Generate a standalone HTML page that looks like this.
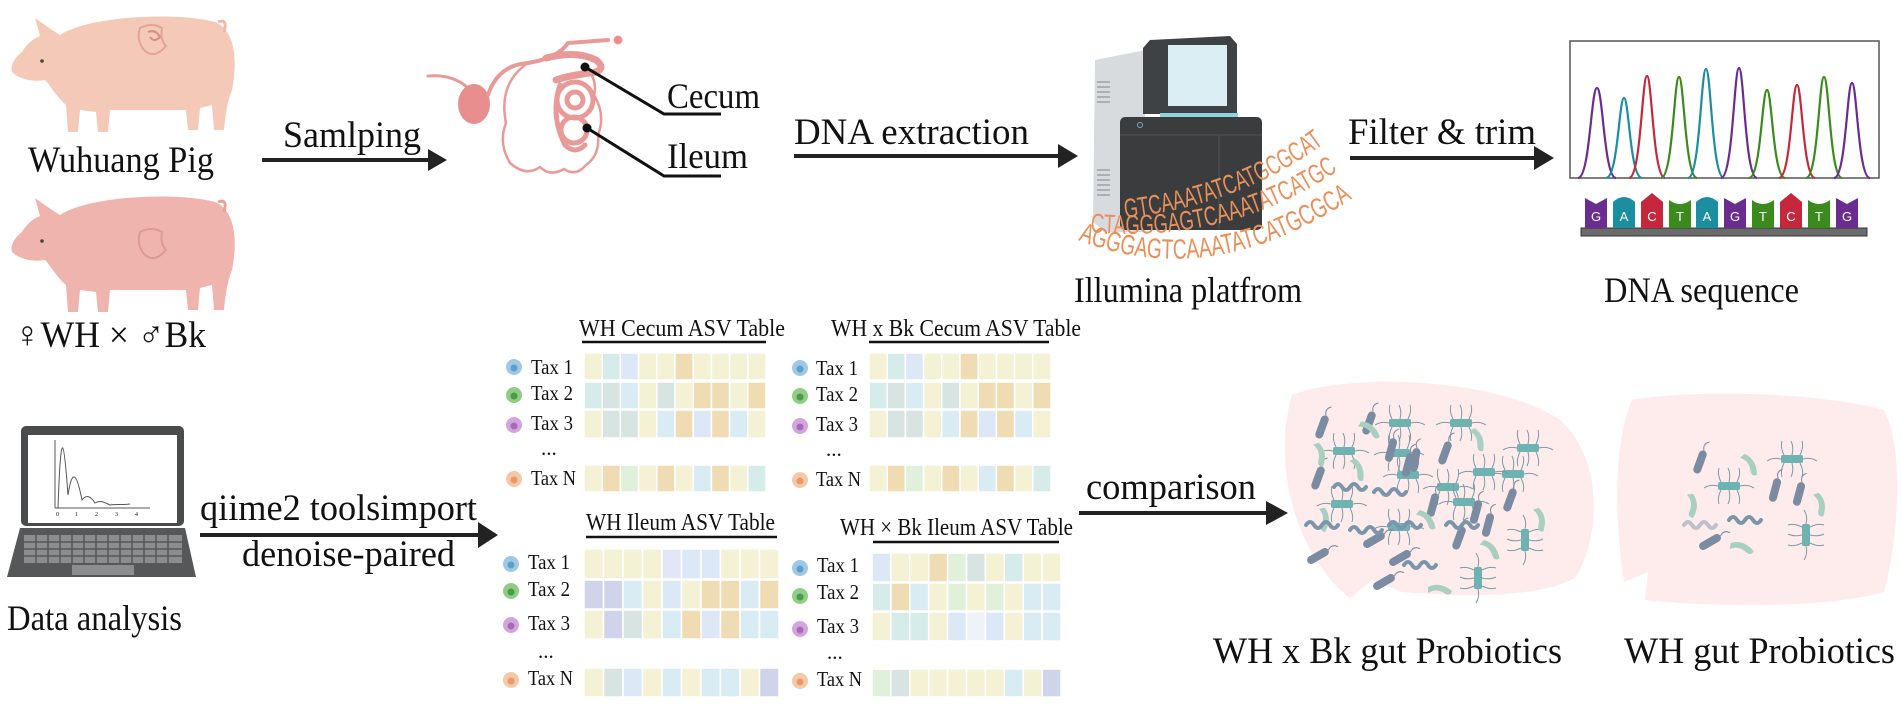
<!DOCTYPE html>
<html><head><meta charset="utf-8"><style>
html,body{margin:0;padding:0;background:#fff;}
svg{display:block;}
text{font-family:"Liberation Serif",serif;fill:#111;}
</style></head><body>
<svg width="1902" height="705" viewBox="0 0 1902 705" xmlns="http://www.w3.org/2000/svg">
<defs>
<g id="rod"><rect x="-12" y="-4" width="24" height="8" rx="4" fill="#7b8ba1"/><path d="M12,0 q6,-4 10,2" stroke="#7b8ba1" fill="none" stroke-width="1"/></g>
<g id="bean"><path d="M-12,-3 q12,-6 24,4 q-2,6 -8,2 q-8,-5 -16,0 z" fill="#a9cfc1"/></g>
<g id="flag"><g stroke="#7c9aa6" stroke-width="1" fill="none"><path d="M-8,-4 q-4,-8 -2,-14"/><path d="M0,-4 q2,-8 -1,-14"/><path d="M8,-4 q4,-8 2,-14"/><path d="M-8,4 q-4,8 -2,14"/><path d="M0,4 q2,8 -1,14"/><path d="M8,4 q4,8 2,14"/><path d="M-11,0 q-8,-2 -14,2"/><path d="M11,0 q8,-2 14,2"/></g><rect x="-11" y="-4" width="22" height="8" rx="2" fill="#6fb2b2"/></g>
<g id="spir"><path d="M-16,0 q4,-6 8,0 t8,0 t8,0 t8,0" stroke="#7b95ab" stroke-width="4" fill="none" stroke-linecap="round"/></g>
</defs>

<!-- Pig 1 -->
<g>
<path d="M60,35 C90,15 180,12 215,22 C235,30 238,60 232,90 C228,100 226,110 224,130 L214,130 L212,105 L200,108 L198,130 L188,130 L186,110 L110,110 L108,132 L98,132 L96,112 L80,110 L78,132 L68,132 L66,105 C55,95 50,85 45,80 C35,82 20,80 12,72 C10,66 14,58 22,52 C28,42 35,38 40,36 L35,18 L52,30 Z" fill="#f4c9b8"/>
<path d="M218,22 q10,-4 6,10" stroke="#f0b9a6" stroke-width="3" fill="none"/>
<circle cx="42" cy="61" r="1.8" fill="#444"/>
<path d="M140,28 q12,-6 22,0 q-2,12 4,18 q-12,14 -22,4 q-8,-10 -4,-22z" fill="none" stroke="#e2a39a" stroke-width="2"/>
<path d="M148,32 q8,-3 12,5 q-6,6 -10,0" stroke="#d98b88" stroke-width="2" fill="none"/>
</g>
<!-- Pig 2 -->
<g transform="translate(0,180)">
<path d="M60,35 C90,15 180,12 215,22 C235,30 238,60 232,90 C228,100 226,110 224,130 L214,130 L212,105 L200,108 L198,130 L188,130 L186,110 L110,110 L108,132 L98,132 L96,112 L80,110 L78,132 L68,132 L66,105 C55,95 50,85 45,80 C35,82 20,80 12,72 C10,66 14,58 22,52 C28,42 35,38 40,36 L35,18 L52,30 Z" fill="#efb4ae"/>
<path d="M218,22 q10,-4 6,10" stroke="#e9a29c" stroke-width="3" fill="none"/>
<circle cx="42" cy="61" r="1.8" fill="#444"/>
<path d="M140,52 q12,-6 22,0 q-2,12 4,18 q-12,14 -22,4 q-8,-10 -4,-22z" fill="none" stroke="#dc9a96" stroke-width="2"/>
</g>
<text x="121" y="172" font-size="37" text-anchor="middle" textLength="186" lengthAdjust="spacingAndGlyphs">Wuhuang Pig</text>
<text x="14" y="347" font-size="37" textLength="192" lengthAdjust="spacingAndGlyphs">♀WH × ♂Bk</text>

<!-- Sampling arrow -->
<text x="283" y="147" font-size="37" textLength="138" lengthAdjust="spacingAndGlyphs">Samlping</text>
<line x1="262" y1="160" x2="430" y2="160" stroke="#222" stroke-width="4"/>
<polygon points="428,149 447,160 428,171" fill="#222"/>

<!-- Intestine -->
<g fill="none" stroke="#e79a98" stroke-linecap="round">
<path d="M428,76 q25,-2 40,12" stroke-width="3"/>
<ellipse cx="474" cy="104" rx="16" ry="20" fill="#e88e8e" stroke="none"/>
<path d="M488,95 q10,-30 40,-32 q30,-5 40,-20 l40,-3" stroke-width="4"/>
<circle cx="618" cy="40" r="4" fill="#e88e8e"/>
<path d="M528,63 q-30,20 -22,60 q-8,20 4,40 q16,14 30,4 q10,10 24,2 q12,8 22,-4 q14,-10 12,-30 q8,-20 -4,-40 q4,-14 -8,-28" stroke-width="2.5"/>
<path d="M546,58 q30,-8 50,2 q10,8 0,12 q-30,4 -40,8" stroke-width="7"/>
<circle cx="575" cy="100" r="18" stroke-width="5"/>
<circle cx="575" cy="100" r="8" stroke-width="5"/>
<circle cx="574" cy="130" r="13" stroke-width="5"/>
<path d="M560,85 q-10,30 5,60 q10,10 20,0" stroke-width="5"/>
</g>
<g stroke="#111" stroke-width="3" fill="none">
<path d="M585,67 L664,114 L721,114"/>
<path d="M587,128 L664,176 L721,176"/>
</g>
<circle cx="585" cy="67" r="4.5" fill="#111"/>
<circle cx="587" cy="128" r="4.5" fill="#111"/>
<text x="667" y="108" font-size="36" textLength="93" lengthAdjust="spacingAndGlyphs">Cecum</text>
<text x="667" y="168" font-size="36" textLength="81" lengthAdjust="spacingAndGlyphs">Ileum</text>

<!-- DNA extraction arrow -->
<text x="794" y="144" font-size="37" textLength="235" lengthAdjust="spacingAndGlyphs">DNA extraction</text>
<line x1="794" y1="156" x2="1060" y2="156" stroke="#222" stroke-width="4"/>
<polygon points="1058,144 1078,156 1058,168" fill="#222"/>

<!-- Sequencer -->
<g>
<path d="M1095,60 L1145,50 L1145,232 L1105,232 L1093,222 Z" fill="#d7dbde"/>
<g stroke="#9aa1a6" stroke-width="1.5"><line x1="1097" y1="82" x2="1110" y2="82"/><line x1="1097" y1="87" x2="1110" y2="87"/><line x1="1097" y1="92" x2="1110" y2="92"/><line x1="1097" y1="97" x2="1110" y2="97"/><line x1="1097" y1="102" x2="1110" y2="102"/><line x1="1097" y1="170" x2="1110" y2="170"/><line x1="1097" y1="175" x2="1110" y2="175"/><line x1="1097" y1="180" x2="1110" y2="180"/><line x1="1097" y1="185" x2="1110" y2="185"/><line x1="1097" y1="190" x2="1110" y2="190"/><line x1="1097" y1="195" x2="1110" y2="195"/></g>
<path d="M1150,40 L1230,36 L1237,44 L1237,114 L1143,114 L1143,48 Z" fill="#3f4244"/>
<rect x="1168" y="45" width="59" height="61" fill="#dbeef4"/>
<rect x="1160" y="113" width="78" height="5" fill="#8fd3dc"/>
<rect x="1120" y="117" width="142" height="113" rx="5" fill="#3b3c3e"/>
<line x1="1120" y1="135" x2="1262" y2="135" stroke="#555" stroke-width="1"/>
<line x1="1219" y1="135" x2="1219" y2="228" stroke="#555" stroke-width="1"/>
<circle cx="1140" cy="125" r="2.5" fill="none" stroke="#7ac" stroke-width="1"/>
</g>
<!-- DNA letters -->
<path id="p1" d="M1125,218 Q1240,205 1322,145" fill="none"/>
<path id="p2" d="M1090,232 Q1230,245 1342,168" fill="none"/>
<path id="p3" d="M1078,240 Q1210,292 1350,200" fill="none"/>
<text font-size="27" style="fill:#e9905a;font-family:'Liberation Sans',sans-serif"><textPath href="#p1" textLength="215" lengthAdjust="spacingAndGlyphs">GTCAAATATCATGCGCAT</textPath></text>
<text font-size="27" style="fill:#e9905a;font-family:'Liberation Sans',sans-serif"><textPath href="#p2" textLength="275" lengthAdjust="spacingAndGlyphs">CTAGGGAGTCAAATATCATGCG</textPath></text>
<text font-size="28" style="fill:#e9905a;font-family:'Liberation Sans',sans-serif"><textPath href="#p3" textLength="300" lengthAdjust="spacingAndGlyphs">AGGGAGTCAAATATCATGCGCAT</textPath></text>
<text x="1074" y="302" font-size="36" textLength="228" lengthAdjust="spacingAndGlyphs">Illumina platfrom</text>

<!-- Filter arrow -->
<text x="1348" y="144" font-size="37" textLength="188" lengthAdjust="spacingAndGlyphs">Filter &amp; trim</text>
<line x1="1350" y1="158" x2="1536" y2="158" stroke="#222" stroke-width="4"/>
<polygon points="1534,146 1554,158 1534,170" fill="#222"/>

<!-- Chromatogram -->
<rect x="1570" y="41" width="309" height="137" fill="#fff" stroke="#555" stroke-width="1.5"/>
<g fill="none" stroke-width="2.2">
<path d="M1578,178 C1590,178 1591,88 1597,88 C1603,88 1604,178 1616,178" stroke="#6a2c91"/>
<path d="M1606,178 C1618,178 1619,98 1624,98 C1629,98 1630,178 1642,178" stroke="#1b8ea0"/>
<path d="M1629,178 C1641,178 1642,76 1647,76 C1652,76 1653,178 1665,178" stroke="#c5283d"/>
<path d="M1661,178 C1673,178 1674,77 1679,77 C1684,77 1685,178 1697,178" stroke="#3b8a1e"/>
<path d="M1688,178 C1700,178 1701,69 1706,69 C1711,69 1712,178 1724,178" stroke="#1b8ea0"/>
<path d="M1721,178 C1733,178 1734,68 1739,68 C1744,68 1745,178 1757,178" stroke="#6a2c91"/>
<path d="M1749,178 C1761,178 1762,90 1767,90 C1772,90 1773,178 1785,178" stroke="#3b8a1e"/>
<path d="M1779,178 C1791,178 1792,85 1797,85 C1802,85 1803,178 1815,178" stroke="#c5283d"/>
<path d="M1806,178 C1818,178 1819,77 1824,77 C1829,77 1830,178 1842,178" stroke="#3b8a1e"/>
<path d="M1834,178 C1846,178 1847,83 1852,83 C1857,83 1858,178 1870,178" stroke="#6a2c91"/>
</g>
<rect x="1581" y="228" width="286" height="8" fill="#6b6b6b" stroke="#333" stroke-width="1"/>
<g>
<path d="M1585,228 v-30 l11,6 l11,-6 v30z" fill="#6a2c91"/><text x="1596" y="221" font-size="13" text-anchor="middle" style="fill:#fff;font-family:'Liberation Sans',sans-serif">G</text>
<path d="M1613,228 v-26 q11,-10 22,0 v26z" fill="#1b8ea0"/><text x="1624" y="221" font-size="13" text-anchor="middle" style="fill:#fff;font-family:'Liberation Sans',sans-serif">A</text>
<path d="M1641,228 v-26 l11,-9 l11,9 v26z" fill="#c5283d"/><text x="1652" y="221" font-size="13" text-anchor="middle" style="fill:#fff;font-family:'Liberation Sans',sans-serif">C</text>
<path d="M1669,228 v-28 q11,8 22,0 v28z" fill="#3b8a1e"/><text x="1680" y="221" font-size="13" text-anchor="middle" style="fill:#fff;font-family:'Liberation Sans',sans-serif">T</text>
<path d="M1696,228 v-26 q11,-10 22,0 v26z" fill="#1b8ea0"/><text x="1707" y="221" font-size="13" text-anchor="middle" style="fill:#fff;font-family:'Liberation Sans',sans-serif">A</text>
<path d="M1724,228 v-30 l11,6 l11,-6 v30z" fill="#6a2c91"/><text x="1735" y="221" font-size="13" text-anchor="middle" style="fill:#fff;font-family:'Liberation Sans',sans-serif">G</text>
<path d="M1752,228 v-28 q11,8 22,0 v28z" fill="#3b8a1e"/><text x="1763" y="221" font-size="13" text-anchor="middle" style="fill:#fff;font-family:'Liberation Sans',sans-serif">T</text>
<path d="M1780,228 v-26 l11,-9 l11,9 v26z" fill="#c5283d"/><text x="1791" y="221" font-size="13" text-anchor="middle" style="fill:#fff;font-family:'Liberation Sans',sans-serif">C</text>
<path d="M1808,228 v-28 q11,8 22,0 v28z" fill="#3b8a1e"/><text x="1819" y="221" font-size="13" text-anchor="middle" style="fill:#fff;font-family:'Liberation Sans',sans-serif">T</text>
<path d="M1836,228 v-30 l11,6 l11,-6 v30z" fill="#6a2c91"/><text x="1847" y="221" font-size="13" text-anchor="middle" style="fill:#fff;font-family:'Liberation Sans',sans-serif">G</text>
</g>
<text x="1604" y="302" font-size="36" textLength="195" lengthAdjust="spacingAndGlyphs">DNA sequence</text>

<!-- Laptop -->
<rect x="21" y="426" width="163" height="100" rx="5" fill="#4a4b4d"/>
<rect x="28" y="435" width="149" height="88" fill="#fff"/>
<g stroke="#555" stroke-width="1" fill="none">
<line x1="55" y1="440" x2="55" y2="508"/><line x1="55" y1="508" x2="150" y2="508"/>
<path d="M58,508 C61,420 64,440 68,495 C72,470 76,470 82,500 C86,495 90,495 95,503 C100,500 104,502 110,505 C116,504 122,505 130,504"/>
</g>
<g font-size="6" style="font-family:'Liberation Sans',sans-serif"><text x="56" y="516">0</text><text x="75" y="516">1</text><text x="95" y="516">2</text><text x="115" y="516">3</text><text x="135" y="516">4</text></g>
<path d="M20,528 L185,528 L196,577 L7,577 Z" fill="#565759"/>
<rect x="24" y="535" width="158" height="28" fill="#8c8d8f"/>
<g stroke="#565759" stroke-width="1.5"><line x1="24" y1="542" x2="182" y2="542"/><line x1="24" y1="549" x2="182" y2="549"/><line x1="24" y1="556" x2="182" y2="556"/>
<line x1="36" y1="535" x2="36" y2="563"/><line x1="48" y1="535" x2="48" y2="563"/><line x1="60" y1="535" x2="60" y2="563"/><line x1="72" y1="535" x2="72" y2="563"/><line x1="84" y1="535" x2="84" y2="563"/><line x1="96" y1="535" x2="96" y2="563"/><line x1="108" y1="535" x2="108" y2="563"/><line x1="120" y1="535" x2="120" y2="563"/><line x1="132" y1="535" x2="132" y2="563"/><line x1="144" y1="535" x2="144" y2="563"/><line x1="156" y1="535" x2="156" y2="563"/><line x1="168" y1="535" x2="168" y2="563"/></g>
<rect x="72" y="565" width="62" height="10" fill="#8c8d8f"/>
<text x="7" y="630" font-size="36" textLength="175" lengthAdjust="spacingAndGlyphs">Data analysis</text>

<!-- qiime arrow -->
<text x="200" y="520" font-size="37" textLength="277" lengthAdjust="spacingAndGlyphs">qiime2 toolsimport</text>
<line x1="200" y1="535" x2="480" y2="535" stroke="#222" stroke-width="4"/>
<polygon points="478,522 498,535 478,548" fill="#222"/>
<text x="242" y="566" font-size="37" textLength="213" lengthAdjust="spacingAndGlyphs">denoise-paired</text>

<!-- Table headers -->
<text x="579" y="336" font-size="24" textLength="206" lengthAdjust="spacingAndGlyphs">WH Cecum ASV Table</text>
<line x1="582" y1="342" x2="766" y2="342" stroke="#111" stroke-width="2.5"/>
<text x="831" y="336" font-size="24" textLength="250" lengthAdjust="spacingAndGlyphs">WH x Bk Cecum ASV Table</text>
<line x1="869" y1="342" x2="1049" y2="342" stroke="#111" stroke-width="2.5"/>
<text x="586" y="530" font-size="24" textLength="189" lengthAdjust="spacingAndGlyphs">WH Ileum ASV Table</text>
<line x1="586" y1="537" x2="777" y2="537" stroke="#111" stroke-width="2.5"/>
<text x="840" y="535" font-size="24" textLength="233" lengthAdjust="spacingAndGlyphs">WH × Bk Ileum ASV Table</text>
<line x1="873" y1="542" x2="1059" y2="542" stroke="#111" stroke-width="2.5"/>

<!-- Tables -->
<g stroke="#fff" stroke-width="1.5">
<g transform="translate(584,353)">
<rect x="0" y="0" width="18.2" height="27" fill="#f5f1d5"/><rect x="18.2" y="0" width="18.2" height="27" fill="#d6ecea"/><rect x="36.4" y="0" width="18.2" height="27" fill="#dde8f7"/><rect x="54.6" y="0" width="18.2" height="27" fill="#f5f1d5"/><rect x="72.8" y="0" width="18.2" height="27" fill="#f5f1d5"/><rect x="91" y="0" width="18.2" height="27" fill="#efdcb2"/><rect x="109.2" y="0" width="18.2" height="27" fill="#f5f1d5"/><rect x="127.4" y="0" width="18.2" height="27" fill="#f5f1d5"/><rect x="145.6" y="0" width="18.2" height="27" fill="#f5f1d5"/><rect x="163.8" y="0" width="18.2" height="27" fill="#f5f1d5"/>
<rect x="0" y="29" width="18.2" height="27" fill="#d6ecea"/><rect x="18.2" y="29" width="18.2" height="27" fill="#d8e4e2"/><rect x="36.4" y="29" width="18.2" height="27" fill="#d9ecf4"/><rect x="54.6" y="29" width="18.2" height="27" fill="#f5f1d5"/><rect x="72.8" y="29" width="18.2" height="27" fill="#d8e4e2"/><rect x="91" y="29" width="18.2" height="27" fill="#f5f1d5"/><rect x="109.2" y="29" width="18.2" height="27" fill="#efdcb2"/><rect x="127.4" y="29" width="18.2" height="27" fill="#efdcb2"/><rect x="145.6" y="29" width="18.2" height="27" fill="#f5f1d5"/><rect x="163.8" y="29" width="18.2" height="27" fill="#efdcb2"/>
<rect x="0" y="57" width="18.2" height="28" fill="#f5f1d5"/><rect x="18.2" y="57" width="18.2" height="28" fill="#d8e4e2"/><rect x="36.4" y="57" width="18.2" height="28" fill="#d8e4e2"/><rect x="54.6" y="57" width="18.2" height="28" fill="#f5f1d5"/><rect x="72.8" y="57" width="18.2" height="28" fill="#d9ecf4"/><rect x="91" y="57" width="18.2" height="28" fill="#efdcb2"/><rect x="109.2" y="57" width="18.2" height="28" fill="#dde8f7"/><rect x="127.4" y="57" width="18.2" height="28" fill="#efdcb2"/><rect x="145.6" y="57" width="18.2" height="28" fill="#d9ecf4"/><rect x="163.8" y="57" width="18.2" height="28" fill="#f5f1d5"/>
<rect x="0" y="112" width="18.2" height="27" fill="#f5f1d5"/><rect x="18.2" y="112" width="18.2" height="27" fill="#efdcb2"/><rect x="36.4" y="112" width="18.2" height="27" fill="#e0f0da"/><rect x="54.6" y="112" width="18.2" height="27" fill="#f5f1d5"/><rect x="72.8" y="112" width="18.2" height="27" fill="#efdcb2"/><rect x="91" y="112" width="18.2" height="27" fill="#f5f1d5"/><rect x="109.2" y="112" width="18.2" height="27" fill="#d9ecf4"/><rect x="127.4" y="112" width="18.2" height="27" fill="#efdcb2"/><rect x="145.6" y="112" width="18.2" height="27" fill="#f5f1d5"/><rect x="163.8" y="112" width="18.2" height="27" fill="#d6ecea"/>
</g>
<g transform="translate(869,353)">
<rect x="0" y="0" width="18.2" height="27" fill="#f5f1d5"/><rect x="18.2" y="0" width="18.2" height="27" fill="#d6ecea"/><rect x="36.4" y="0" width="18.2" height="27" fill="#dde8f7"/><rect x="54.6" y="0" width="18.2" height="27" fill="#f5f1d5"/><rect x="72.8" y="0" width="18.2" height="27" fill="#f5f1d5"/><rect x="91" y="0" width="18.2" height="27" fill="#efdcb2"/><rect x="109.2" y="0" width="18.2" height="27" fill="#f5f1d5"/><rect x="127.4" y="0" width="18.2" height="27" fill="#f5f1d5"/><rect x="145.6" y="0" width="18.2" height="27" fill="#f5f1d5"/><rect x="163.8" y="0" width="18.2" height="27" fill="#f5f1d5"/>
<rect x="0" y="29" width="18.2" height="27" fill="#d6ecea"/><rect x="18.2" y="29" width="18.2" height="27" fill="#d8e4e2"/><rect x="36.4" y="29" width="18.2" height="27" fill="#d9ecf4"/><rect x="54.6" y="29" width="18.2" height="27" fill="#f5f1d5"/><rect x="72.8" y="29" width="18.2" height="27" fill="#d8e4e2"/><rect x="91" y="29" width="18.2" height="27" fill="#f5f1d5"/><rect x="109.2" y="29" width="18.2" height="27" fill="#efdcb2"/><rect x="127.4" y="29" width="18.2" height="27" fill="#efdcb2"/><rect x="145.6" y="29" width="18.2" height="27" fill="#f5f1d5"/><rect x="163.8" y="29" width="18.2" height="27" fill="#efdcb2"/>
<rect x="0" y="57" width="18.2" height="28" fill="#f5f1d5"/><rect x="18.2" y="57" width="18.2" height="28" fill="#d8e4e2"/><rect x="36.4" y="57" width="18.2" height="28" fill="#d8e4e2"/><rect x="54.6" y="57" width="18.2" height="28" fill="#f5f1d5"/><rect x="72.8" y="57" width="18.2" height="28" fill="#d9ecf4"/><rect x="91" y="57" width="18.2" height="28" fill="#efdcb2"/><rect x="109.2" y="57" width="18.2" height="28" fill="#dde8f7"/><rect x="127.4" y="57" width="18.2" height="28" fill="#efdcb2"/><rect x="145.6" y="57" width="18.2" height="28" fill="#d9ecf4"/><rect x="163.8" y="57" width="18.2" height="28" fill="#f5f1d5"/>
<rect x="0" y="112" width="18.2" height="27" fill="#f5f1d5"/><rect x="18.2" y="112" width="18.2" height="27" fill="#efdcb2"/><rect x="36.4" y="112" width="18.2" height="27" fill="#e0f0da"/><rect x="54.6" y="112" width="18.2" height="27" fill="#f5f1d5"/><rect x="72.8" y="112" width="18.2" height="27" fill="#efdcb2"/><rect x="91" y="112" width="18.2" height="27" fill="#f5f1d5"/><rect x="109.2" y="112" width="18.2" height="27" fill="#d9ecf4"/><rect x="127.4" y="112" width="18.2" height="27" fill="#efdcb2"/><rect x="145.6" y="112" width="18.2" height="27" fill="#f5f1d5"/><rect x="163.8" y="112" width="18.2" height="27" fill="#d6ecea"/>
</g>
<g transform="translate(584,549)">
<rect x="0" y="0" width="19.5" height="30" fill="#f5f1d5"/><rect x="19.5" y="0" width="19.5" height="30" fill="#f5f1d5"/><rect x="39" y="0" width="19.5" height="30" fill="#f5f1d5"/><rect x="58.5" y="0" width="19.5" height="30" fill="#f5f1d5"/><rect x="78" y="0" width="19.5" height="30" fill="#e2e6f6"/><rect x="97.5" y="0" width="19.5" height="30" fill="#dde8f7"/><rect x="117" y="0" width="19.5" height="30" fill="#dde8f7"/><rect x="136.5" y="0" width="19.5" height="30" fill="#f5f1d5"/><rect x="156" y="0" width="19.5" height="30" fill="#f5f1d5"/><rect x="175.5" y="0" width="19.5" height="30" fill="#f5f1d5"/>
<rect x="0" y="31" width="19.5" height="29" fill="#d0d4ea"/><rect x="19.5" y="31" width="19.5" height="29" fill="#d0d4ea"/><rect x="39" y="31" width="19.5" height="29" fill="#d9ecf4"/><rect x="58.5" y="31" width="19.5" height="29" fill="#f5f1d5"/><rect x="78" y="31" width="19.5" height="29" fill="#dde8f7"/><rect x="97.5" y="31" width="19.5" height="29" fill="#f5f1d5"/><rect x="117" y="31" width="19.5" height="29" fill="#efdcb2"/><rect x="136.5" y="31" width="19.5" height="29" fill="#efdcb2"/><rect x="156" y="31" width="19.5" height="29" fill="#d9ecf4"/><rect x="175.5" y="31" width="19.5" height="29" fill="#efdcb2"/>
<rect x="0" y="61" width="19.5" height="29" fill="#f5f1d5"/><rect x="19.5" y="61" width="19.5" height="29" fill="#d0d4ea"/><rect x="39" y="61" width="19.5" height="29" fill="#d8e4e2"/><rect x="58.5" y="61" width="19.5" height="29" fill="#f5f1d5"/><rect x="78" y="61" width="19.5" height="29" fill="#d9ecf4"/><rect x="97.5" y="61" width="19.5" height="29" fill="#efdcb2"/><rect x="117" y="61" width="19.5" height="29" fill="#dde8f7"/><rect x="136.5" y="61" width="19.5" height="29" fill="#efdcb2"/><rect x="156" y="61" width="19.5" height="29" fill="#d9ecf4"/><rect x="175.5" y="61" width="19.5" height="29" fill="#d9ecf4"/>
<rect x="0" y="119" width="19.5" height="29" fill="#f5f1d5"/><rect x="19.5" y="119" width="19.5" height="29" fill="#d8e4e2"/><rect x="39" y="119" width="19.5" height="29" fill="#dde8f7"/><rect x="58.5" y="119" width="19.5" height="29" fill="#f5f1d5"/><rect x="78" y="119" width="19.5" height="29" fill="#d9ecf4"/><rect x="97.5" y="119" width="19.5" height="29" fill="#f5f1d5"/><rect x="117" y="119" width="19.5" height="29" fill="#d9ecf4"/><rect x="136.5" y="119" width="19.5" height="29" fill="#d9ecf4"/><rect x="156" y="119" width="19.5" height="29" fill="#f5f1d5"/><rect x="175.5" y="119" width="19.5" height="29" fill="#d0d4ea"/>
</g>
<g transform="translate(872,553)">
<rect x="0" y="0" width="18.9" height="29" fill="#dde8f7"/><rect x="18.9" y="0" width="18.9" height="29" fill="#f5f1d5"/><rect x="37.8" y="0" width="18.9" height="29" fill="#f5f1d5"/><rect x="56.7" y="0" width="18.9" height="29" fill="#efdcb2"/><rect x="75.6" y="0" width="18.9" height="29" fill="#e0f0da"/><rect x="94.5" y="0" width="18.9" height="29" fill="#d8e4e2"/><rect x="113.4" y="0" width="18.9" height="29" fill="#f5f1d5"/><rect x="132.3" y="0" width="18.9" height="29" fill="#d6ecea"/><rect x="151.2" y="0" width="18.9" height="29" fill="#f5f1d5"/><rect x="170.1" y="0" width="18.9" height="29" fill="#f5f1d5"/>
<rect x="0" y="30" width="18.9" height="28" fill="#d6ecea"/><rect x="18.9" y="30" width="18.9" height="28" fill="#efdcb2"/><rect x="37.8" y="30" width="18.9" height="28" fill="#d9ecf4"/><rect x="56.7" y="30" width="18.9" height="28" fill="#f5f1d5"/><rect x="75.6" y="30" width="18.9" height="28" fill="#e0f0da"/><rect x="94.5" y="30" width="18.9" height="28" fill="#f5f1d5"/><rect x="113.4" y="30" width="18.9" height="28" fill="#e0f0da"/><rect x="132.3" y="30" width="18.9" height="28" fill="#f5f1d5"/><rect x="151.2" y="30" width="18.9" height="28" fill="#d9ecf4"/><rect x="170.1" y="30" width="18.9" height="28" fill="#d9ecf4"/>
<rect x="0" y="59" width="18.9" height="29" fill="#f5f1d5"/><rect x="18.9" y="59" width="18.9" height="29" fill="#d6ecea"/><rect x="37.8" y="59" width="18.9" height="29" fill="#d6ecea"/><rect x="56.7" y="59" width="18.9" height="29" fill="#f5f1d5"/><rect x="75.6" y="59" width="18.9" height="29" fill="#dde8f7"/><rect x="94.5" y="59" width="18.9" height="29" fill="#eef3f9"/><rect x="113.4" y="59" width="18.9" height="29" fill="#dde8f7"/><rect x="132.3" y="59" width="18.9" height="29" fill="#f5f1d5"/><rect x="151.2" y="59" width="18.9" height="29" fill="#d9ecf4"/><rect x="170.1" y="59" width="18.9" height="29" fill="#d9ecf4"/>
<rect x="0" y="116" width="18.9" height="28" fill="#e0f0da"/><rect x="18.9" y="116" width="18.9" height="28" fill="#d8e4e2"/><rect x="37.8" y="116" width="18.9" height="28" fill="#f5f1d5"/><rect x="56.7" y="116" width="18.9" height="28" fill="#f5f1d5"/><rect x="75.6" y="116" width="18.9" height="28" fill="#f5f1d5"/><rect x="94.5" y="116" width="18.9" height="28" fill="#f5f1d5"/><rect x="113.4" y="116" width="18.9" height="28" fill="#f5f1d5"/><rect x="132.3" y="116" width="18.9" height="28" fill="#d9ecf4"/><rect x="151.2" y="116" width="18.9" height="28" fill="#f5f1d5"/><rect x="170.1" y="116" width="18.9" height="28" fill="#d0d4ea"/>
</g>
</g>

<!-- Tax labels & dots -->
<g font-size="21">
<g><circle cx="514" cy="367" r="8" fill="#9ec9e6"/><circle cx="514" cy="368" r="3.5" fill="#5d9fc8"/><text x="531" y="374" textLength="42" lengthAdjust="spacingAndGlyphs">Tax 1</text>
<circle cx="514" cy="395" r="8" fill="#8fcd84"/><circle cx="514" cy="396" r="3.5" fill="#4c9a4a"/><text x="531" y="400" textLength="42" lengthAdjust="spacingAndGlyphs">Tax 2</text>
<circle cx="514" cy="425" r="8" fill="#d2a6dc"/><circle cx="514" cy="426" r="3.5" fill="#a66bb8"/><text x="531" y="430" textLength="42" lengthAdjust="spacingAndGlyphs">Tax 3</text>
<text x="541" y="455">...</text>
<circle cx="514" cy="479" r="8" fill="#f5c8a6"/><circle cx="514" cy="480" r="3.5" fill="#e69a70"/><text x="531" y="485" textLength="45" lengthAdjust="spacingAndGlyphs">Tax N</text></g>
<g><circle cx="800" cy="368" r="8" fill="#9ec9e6"/><circle cx="800" cy="369" r="3.5" fill="#5d9fc8"/><text x="816" y="375" textLength="42" lengthAdjust="spacingAndGlyphs">Tax 1</text>
<circle cx="800" cy="396" r="8" fill="#8fcd84"/><circle cx="800" cy="397" r="3.5" fill="#4c9a4a"/><text x="816" y="401" textLength="42" lengthAdjust="spacingAndGlyphs">Tax 2</text>
<circle cx="800" cy="426" r="8" fill="#d2a6dc"/><circle cx="800" cy="427" r="3.5" fill="#a66bb8"/><text x="816" y="431" textLength="42" lengthAdjust="spacingAndGlyphs">Tax 3</text>
<text x="826" y="456">...</text>
<circle cx="800" cy="480" r="8" fill="#f5c8a6"/><circle cx="800" cy="481" r="3.5" fill="#e69a70"/><text x="816" y="486" textLength="45" lengthAdjust="spacingAndGlyphs">Tax N</text></g>
<g><circle cx="511" cy="564" r="8" fill="#9ec9e6"/><circle cx="511" cy="565" r="3.5" fill="#5d9fc8"/><text x="528" y="569" textLength="42" lengthAdjust="spacingAndGlyphs">Tax 1</text>
<circle cx="511" cy="591" r="8" fill="#8fcd84"/><circle cx="511" cy="592" r="3.5" fill="#4c9a4a"/><text x="528" y="596" textLength="42" lengthAdjust="spacingAndGlyphs">Tax 2</text>
<circle cx="511" cy="625" r="8" fill="#d2a6dc"/><circle cx="511" cy="626" r="3.5" fill="#a66bb8"/><text x="528" y="630" textLength="42" lengthAdjust="spacingAndGlyphs">Tax 3</text>
<text x="538" y="658">...</text>
<circle cx="511" cy="680" r="8" fill="#f5c8a6"/><circle cx="511" cy="681" r="3.5" fill="#e69a70"/><text x="528" y="685" textLength="45" lengthAdjust="spacingAndGlyphs">Tax N</text></g>
<g><circle cx="800" cy="568" r="8" fill="#9ec9e6"/><circle cx="800" cy="569" r="3.5" fill="#5d9fc8"/><text x="817" y="572" textLength="42" lengthAdjust="spacingAndGlyphs">Tax 1</text>
<circle cx="800" cy="596" r="8" fill="#8fcd84"/><circle cx="800" cy="597" r="3.5" fill="#4c9a4a"/><text x="817" y="599" textLength="42" lengthAdjust="spacingAndGlyphs">Tax 2</text>
<circle cx="800" cy="629" r="8" fill="#d2a6dc"/><circle cx="800" cy="630" r="3.5" fill="#a66bb8"/><text x="817" y="633" textLength="42" lengthAdjust="spacingAndGlyphs">Tax 3</text>
<text x="827" y="659">...</text>
<circle cx="800" cy="681" r="8" fill="#f5c8a6"/><circle cx="800" cy="682" r="3.5" fill="#e69a70"/><text x="817" y="686" textLength="45" lengthAdjust="spacingAndGlyphs">Tax N</text></g>
</g>

<!-- comparison arrow -->
<text x="1086" y="499" font-size="37" textLength="170" lengthAdjust="spacingAndGlyphs">comparison</text>
<line x1="1079" y1="513" x2="1268" y2="513" stroke="#222" stroke-width="4"/>
<polygon points="1266,501 1288,513 1266,525" fill="#222"/>

<!-- Blobs -->
<path d="M1292,395 C1350,372 1500,378 1560,420 C1605,460 1600,540 1575,578 C1535,600 1450,596 1402,592 L1372,580 L1350,598 C1300,560 1270,470 1292,395 Z" fill="#fdeceb"/>
<path d="M1632,400 C1700,388 1830,394 1884,410 C1905,450 1898,540 1884,592 C1820,610 1700,606 1645,600 L1648,572 L1624,582 C1614,520 1614,440 1632,400 Z" fill="#fdeceb"/>

<!-- Bacteria blob1 -->
<g>
<use href="#flag" transform="translate(1400,423)"/><use href="#flag" transform="translate(1461,423)"/><use href="#flag" transform="translate(1344,451)"/><use href="#flag" transform="translate(1399,453)"/><use href="#flag" transform="translate(1513,474)"/><use href="#flag" transform="translate(1408,475)"/><use href="#flag" transform="translate(1484,472)"/><use href="#flag" transform="translate(1448,487)"/><use href="#flag" transform="translate(1342,504)"/><use href="#flag" transform="translate(1464,502)"/><use href="#flag" transform="translate(1399,527)"/><use href="#flag" transform="translate(1528,448)"/>
<use href="#flag" transform="translate(1525,540) rotate(90)"/><use href="#flag" transform="translate(1478,578) rotate(90)"/>
<use href="#rod" transform="translate(1322,427) rotate(-70)"/><use href="#rod" transform="translate(1369,423) rotate(-70)"/><use href="#rod" transform="translate(1391,450) rotate(-75)"/><use href="#rod" transform="translate(1445,453) rotate(-70)"/><use href="#rod" transform="translate(1408,465) rotate(-75)"/><use href="#rod" transform="translate(1415,460) rotate(-80)"/><use href="#rod" transform="translate(1318,478) rotate(-70)"/><use href="#rod" transform="translate(1433,505) rotate(-75)"/><use href="#rod" transform="translate(1476,512) rotate(-75)"/><use href="#rod" transform="translate(1510,500) rotate(-70)"/><use href="#rod" transform="translate(1488,525) rotate(-75)"/><use href="#rod" transform="translate(1374,540) rotate(-30)"/><use href="#rod" transform="translate(1318,556) rotate(-30)"/><use href="#rod" transform="translate(1400,558) rotate(-30)"/><use href="#rod" transform="translate(1384,582) rotate(-30)"/><use href="#rod" transform="translate(1459,538) rotate(-70)"/>
<use href="#bean" transform="translate(1320,455) rotate(70)"/><use href="#bean" transform="translate(1358,470) rotate(60)"/><use href="#bean" transform="translate(1427,520) rotate(40)"/><use href="#bean" transform="translate(1491,550) rotate(40)"/><use href="#bean" transform="translate(1324,520) rotate(80)"/><use href="#bean" transform="translate(1440,590) rotate(0)"/><use href="#bean" transform="translate(1540,520) rotate(70)"/><use href="#bean" transform="translate(1370,430) rotate(30)"/><use href="#bean" transform="translate(1478,440) rotate(60)"/>
<use href="#spir" transform="translate(1350,487)"/><use href="#spir" transform="translate(1390,492)"/><use href="#spir" transform="translate(1366,530)"/><use href="#spir" transform="translate(1420,565)"/><use href="#spir" transform="translate(1462,525)"/><use href="#spir" transform="translate(1322,525)"/><use href="#spir" transform="translate(1405,525)"/>
</g>
<!-- Bacteria blob2 -->
<g>
<use href="#flag" transform="translate(1792,459)"/><use href="#flag" transform="translate(1729,486)"/><use href="#flag" transform="translate(1806,535) rotate(90)"/>
<use href="#rod" transform="translate(1700,462) rotate(-70)"/><use href="#rod" transform="translate(1775,490) rotate(-75)"/><use href="#rod" transform="translate(1799,494) rotate(-75)"/><use href="#rod" transform="translate(1710,542) rotate(-30)"/>
<use href="#bean" transform="translate(1750,465) rotate(50)"/><use href="#bean" transform="translate(1692,506) rotate(80)"/><use href="#bean" transform="translate(1820,505) rotate(70)"/><use href="#bean" transform="translate(1742,548) rotate(10)"/>
<use href="#spir" transform="translate(1745,520)"/><use href="#spir" transform="translate(1700,525)" opacity="0.5"/>
</g>
<text x="1213" y="663" font-size="37" textLength="349" lengthAdjust="spacingAndGlyphs">WH x Bk gut Probiotics</text>
<text x="1624" y="663" font-size="37" textLength="271" lengthAdjust="spacingAndGlyphs">WH gut Probiotics</text>
</svg>
</body></html>
